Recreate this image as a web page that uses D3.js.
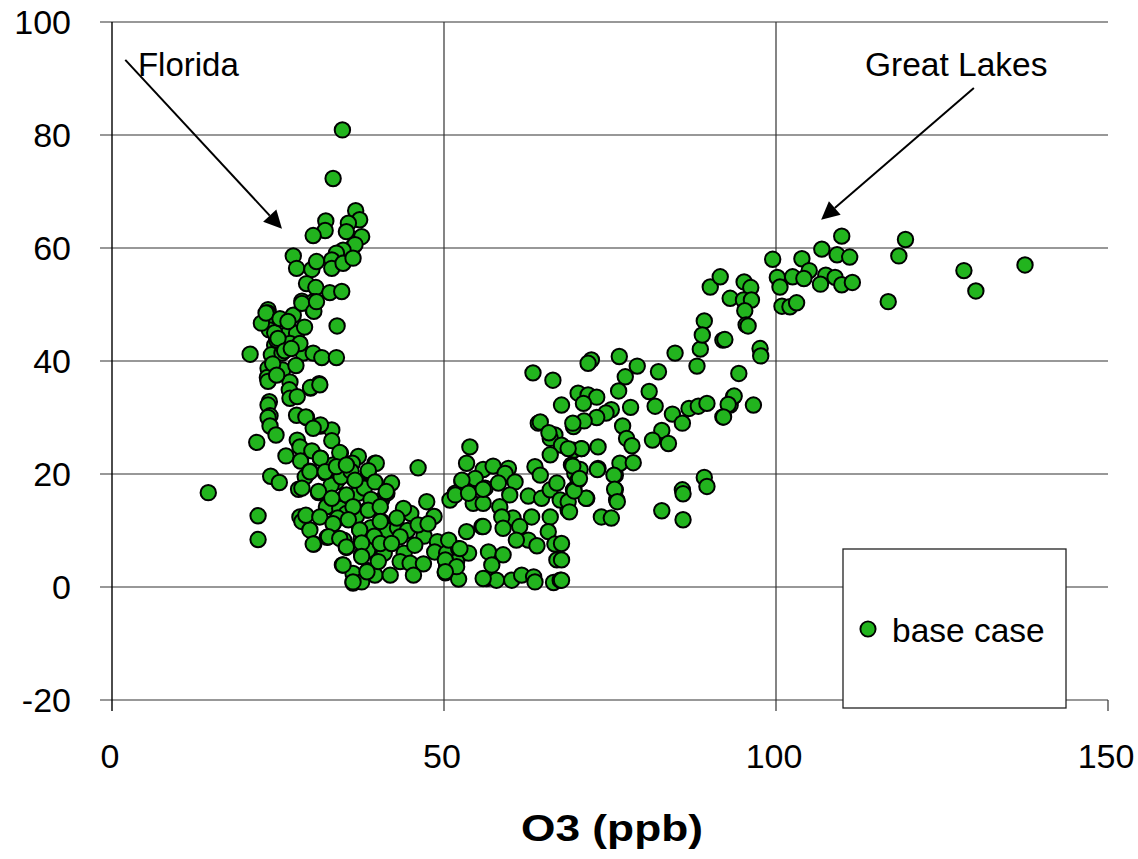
<!DOCTYPE html>
<html>
<head>
<meta charset="utf-8">
<script src="https://cdn.jsdelivr.net/npm/d3@7"></script>
<style>
  body { margin: 0; background: #fff; }
  text { font-family: "Liberation Sans", Arial, Helvetica, sans-serif; fill: #000; }
</style>
</head>
<body>
<svg id="chart" width="1138" height="859"></svg>
<script>
// ---- data ----
const xTickValues = [0, 50, 100, 150];
const yTickValues = [-20, 0, 20, 40, 60, 80, 100];
const xTitle = "O3 (ppb)";
const seriesName = "base case";

// [O3 (ppb), value]
const basePoints = [
  [34.7,80.9],[33.3,72.3],[36.7,66.6],[37.3,65],[32.2,64.8],[32.1,63.1],[30.3,62.2],[35.6,64.4],[35.3,62.9],[37.6,62],
  [36.3,60.2],[36.6,60.6],[34.8,59.6],[33.8,59.1],[27.3,58.6],[27.8,56.4],[30.1,56.2],[30.8,57.6],[33.1,57.9],[33.1,56.4],
  [34.8,57.3],[36.3,58.2],[29.3,53.7],[30.7,53],[32.8,52.1],[34.6,52.3],[28.6,50.6],[30.3,50.5],[23.5,49.1],[30.3,49],
  [23.5,48.5],[24,46.8],[23.7,45.5],[25.6,46.1],[27.3,48.1],[28.6,50.2],[30.4,48.8],[33.9,46.2],[30.8,50.5],[26.3,44.6],
  [27.8,44.9],[24.5,42.8],[26.8,43.1],[20.8,41.2],[24,41.1],[25.6,41.4],[28.8,41.4],[30.3,41.4],[31.6,40.6],[33.8,40.6],
  [23.5,38.7],[25.7,38.4],[27.7,39.2],[23.4,37.1],[23.5,36.4],[26.8,36.3],[31.2,36],[29.9,35.2],[26.7,34.9],[26.8,33.4],
  [27.9,33.7],[23.7,32.8],[23.5,32.2],[23.8,30.3],[23.5,30],[23.8,28.5],[24.7,26.9],[21.8,25.6],[27.8,30.4],[29.3,30],
  [31.4,28.5],[33.1,27.8],[33.1,25.9],[27.9,26],[28.3,24.8],[26.2,23.2],[28.4,22.3],[30.1,24.1],[31.4,22.8],[34.4,23.7],
  [37.1,23.1],[36.2,21.9],[33.3,21.6],[32.1,20.2],[29.8,20.5],[29.1,19.5],[23.9,19.6],[25.2,18.5],[14.5,16.7],[28.1,17.3],
  [31.1,16.7],[33.8,18.6],[36.9,18.6],[38.6,20.4],[39.6,21.9],[35.3,16],[36.3,14.2],[38.4,13.6],[40.1,13.9],[40.6,11.6],
  [32.3,14.2],[34.3,13.9],[28.3,12.4],[28.6,11.6],[29.8,10.1],[22,12.6],[22,8.4],[30.4,7.6],[33.3,11.3],[32.4,8.8],
  [35.3,7],[34.9,8.3],[37.3,10.1],[37.5,8.4],[37.6,5.7],[34.7,3.9],[36.3,2.4],[38.6,2.9],[40.1,4.8],[40.9,8],
  [36.3,0.7],[37.6,0.9],[39.6,2.1],[40.6,15.4],[41.4,16.6],[35.3,13],[37.1,16.6],[22.5,46.7],[23.2,48.5],[24.8,43.7],
  [28.3,43.1],
  [24.5,45],[25,44],[24.2,39.5],[24.8,37.5],[26,41.8],[27,42.2],[25.3,47.5],[26.5,47],[29,46],
  [33,18],[34.5,19.5],[36,20.5],[38,17.5],[39,15.5],[34,12.2],[36.8,12.5],[39,10.5],[41.5,10],[43,10.5],
  [38.5,6.5],[39.5,9],[41,6],[44,6],[44.5,10],[45,13],[47,9],[49,8],[48.5,12.5],
  [29.9,35.3],[31.3,35.8],[29.2,30.1],[31.4,28.7],[30.3,28.1],[34.3,23.8],[39.8,21.9],[38.6,20.6],[31.4,22.8],[29.8,20.4],
  [32.1,20.4],[33.8,21.3],[35.3,21.6],[36.6,18.9],[39.6,18.6],[42.1,18.4],[41.3,16.9],[46.1,21.1],[28.6,17.5],[31.1,16.9],
  [35.3,16.3],[33.1,15.7],[36.3,14.2],[38.6,13.6],[40.4,14.2],[43.9,13.9],[47.4,15.1],[29.2,12.7],[31.3,12.4],[33.3,11.2],
  [35.6,11.9],[37.3,10.1],[40.4,11.6],[42.9,12.2],[43.4,8.9],[46.1,11],[47.6,11.2],[45.6,7.4],[30.3,7.6],[32.6,8.9],
  [34.3,8.6],[35.3,7.1],[37.6,7.8],[40.4,7.7],[42.1,7.7],[34.8,3.9],[37.6,5.4],[40.1,4.5],[43.4,4.5],[44.9,4.2],
  [46.9,4.1],[48.6,6.2],[50.4,6],[52.2,6.8],[53.7,6],[36.3,0.9],[38.4,2.7],[41.9,2.1],[45.4,2.1],[50.2,2.5],
  [52.2,1.4],[50.4,3.7],[51.9,4.5],[53.9,24.8],[53.4,21.9],[55.9,20.8],[57.4,21.4],[52.7,18.6],[54.7,19.2],[51.7,16.6],
  [50.9,15.4],[54.4,14.8],[56.2,17.5],[55.9,14.8],[53.4,9.8],[55.7,10.7],[56.7,6.2],[56.4,1.5],[57.9,1.2],
  [59.7,21],[59.2,20.1],[52.7,18.9],[58.2,18.4],[60.7,18.6],[51.7,16.3],[53.7,16.6],[55.9,17.3],[59.9,16.3],[62.7,16.1],
  [58.4,14.2],[64.7,15.7],[66,17.2],[63.2,12.4],[60.4,12.2],[58.7,12.4],[61.4,10.7],[58.9,10.4],[55.9,10.7],[66,12.4],
  [68.7,13.6],[71.5,15.7],[65.7,9.8],[62.7,8.3],[60.9,8.3],[66.7,7.6],[64,7.3],[50.7,8.3],[52.4,6.8],[58.9,5.7],
  [57.2,3.9],[67,4.8],[50.2,4.8],[51.9,3.6],[50.2,2.7],[55.9,1.5],[60.2,1.2],[61.7,2.1],[63.5,1.8],[63.7,0.9],
  [66.5,0.8],[67.5,1.2],[64.2,29],[66.7,26.9],[66,26.3],[67.7,25.1],[69.5,28.4],[69.5,24.2],[70.7,24.5],[73.2,24.8],
  [66,23.4],[63.7,21.3],[64.5,19.8],[67,18.4],[69.2,21.6],[69.7,20.1],[70.5,20.8],[70.2,18.9],[69.5,17.2],[67.5,15.4],
  [68.7,15.1],[73.2,21],[75.8,19.8],[75.8,17.2],[76,15.4],[73.7,12.4],[75.2,12.2],[76.5,21.9],
  [72.2,40.2],[71.7,39.6],[76.4,40.8],[84.8,41.4],[88.6,42.1],[88.1,39.1],[92,43.7],[79.1,39.1],[82.3,38.1],[77.3,37.2],
  [76.3,34.7],[80.9,34.6],[81.8,32],[70.2,34.3],[71.7,34],[73,33.6],[71,32.5],[67.7,32.2],[78.1,31.8],[75.2,31.4],
  [74.4,30.8],[73,30],[71.1,29.4],[69.4,29],[84.4,30.6],[85.9,29],[86.9,31.6],[88.3,32],[89.6,32.5],[92,30.1],
  [93.1,32.2],[93.6,33.7],[76.9,28.5],[77.5,26.3],[78.3,25],[82.8,27.7],[81.4,26],[83.8,25.4],[78.5,22],[70.7,24.5],
  [68.7,24.5],[69.4,21.4],[73.1,20.8],[75.6,19.8],[75.7,17.3],[76.1,15.1],[71.4,15.7],[69.6,17],[70.4,19.2],[68.9,13.3],
  [85.9,17.2],[86,16.5],[89.2,19.4],[89.6,17.8],[82.8,13.5],[86,11.9],[67.7,1.2],[67.7,4.8],[67.7,7.7],
  [63.4,37.9],[66.4,36.6],[64.5,29.2],[65.8,27.3],[90.1,53.1],[89.2,47.1],[88.9,44.6],
  [109.9,62.1],[119.5,61.5],[106.9,59.8],[99.5,58],[103.9,58.1],[109.2,58.8],[111.1,58.4],[118.5,58.6],[105,56],[100.2,54.8],
  [102.5,54.9],[104.2,54.6],[107.5,55.2],[108.9,54.8],[100.6,53.1],[106.7,53.6],[109.9,53.5],[111.5,53.9],[116.9,50.5],[100.9,49.7],
  [102.1,49.6],[103.1,50.3],[91.6,54.9],[95.2,54],[96.2,53],[93.1,51.1],[95.1,50.8],[96.3,50.8],[95.3,48.9],[95.5,46.4],
  [95.8,46.2],[92.3,43.8],[97.6,42.2],[97.7,40.9],[94.4,37.8],[93.7,33.8],[92.8,32.3],[96.6,32.2],[92.1,30.1],
  [128.3,56],[137.5,57],[130.1,52.4]
];

// callout labels, each with an arrow drawn below
const calloutLabels = ["Florida", "Great Lakes"];

// ---- drawing ----
const svg = d3.select("#chart");
const x = d3.scaleLinear().domain([0, 150]).range([112, 1108]);
const y = d3.scaleLinear().domain([-20, 100]).range([700, 22]);

const lineColor = "#333";
const grid = svg.append("g");

// horizontal grid lines (extend a little left of the axis as ticks)
grid.selectAll("line.h").data(yTickValues).join("line")
  .attr("x1", x(0) - 12).attr("x2", x(150))
  .attr("y1", d => y(d)).attr("y2", d => y(d))
  .attr("stroke", lineColor).attr("stroke-width", 1.2);

// vertical grid lines at interior ticks, axis at 0, tick at 150
grid.selectAll("line.v").data(xTickValues).join("line")
  .attr("x1", d => x(d)).attr("x2", d => x(d))
  .attr("y1", d => d === 150 ? y(-20) : y(100))
  .attr("y2", y(-20) + 11)
  .attr("stroke", d => d === 0 ? "#000" : lineColor)
  .attr("stroke-width", d => d === 0 ? 1.4 : 1.2);

// tick labels
svg.append("g").selectAll("text").data(xTickValues).join("text")
  .attr("x", d => x(d) - 2).attr("y", 768)
  .attr("text-anchor", "middle").attr("font-size", 34)
  .text(d => d);

svg.append("g").selectAll("text").data(yTickValues).join("text")
  .attr("x", 71).attr("y", d => y(d) + 12)
  .attr("text-anchor", "end").attr("font-size", 34)
  .text(d => d);

// axis title
svg.append("text")
  .attr("x", (x(0) + x(150)) / 2 + 2).attr("y", 841)
  .attr("text-anchor", "middle").attr("font-size", 37).attr("font-weight", "bold")
  .attr("textLength", 182).attr("lengthAdjust", "spacingAndGlyphs")
  .text(xTitle);

// points
const fillGreen = "#22b41e";
svg.append("g").selectAll("circle").data(basePoints).join("circle")
  .attr("cx", d => x(d[0])).attr("cy", d => y(d[1]))
  .attr("r", 7.7)
  .attr("fill", fillGreen).attr("stroke", "#000").attr("stroke-width", 2);

// callouts
function arrow(g, from, to) {
  const x1 = x(from[0]), y1 = y(from[1]), x2 = x(to[0]), y2 = y(to[1]);
  const ang = Math.atan2(y2 - y1, x2 - x1);
  const len = 18, hw = 9;
  const bx = x2 - len * Math.cos(ang), by = y2 - len * Math.sin(ang);
  g.append("line").attr("x1", x1).attr("y1", y1).attr("x2", bx).attr("y2", by)
    .attr("stroke", "#000").attr("stroke-width", 2);
  g.append("path")
    .attr("d", `M${x2},${y2}L${bx + hw * Math.sin(ang)},${by - hw * Math.cos(ang)}L${bx - hw * Math.sin(ang)},${by + hw * Math.cos(ang)}Z`)
    .attr("fill", "#000");
}
const callouts = svg.append("g");
callouts.append("text").attr("x", x(3.9)).attr("y", y(90.4))
  .attr("font-size", 33).text(calloutLabels[0]);
arrow(callouts, [2.0, 93.3], [25.6, 63.4]);
callouts.append("text").attr("x", x(113.4)).attr("y", y(90.4))
  .attr("font-size", 33.5).text(calloutLabels[1]);
arrow(callouts, [129.8, 88.3], [106.8, 65.0]);

// legend
const legend = svg.append("g");
legend.append("rect").attr("x", 843).attr("y", 549).attr("width", 223).attr("height", 159)
  .attr("fill", "#fff").attr("stroke", "#222").attr("stroke-width", 1.3);
legend.append("circle").attr("cx", 868).attr("cy", 629).attr("r", 7.6)
  .attr("fill", fillGreen).attr("stroke", "#000").attr("stroke-width", 1.9);
legend.append("text").attr("x", 892).attr("y", 642).attr("font-size", 33.5).text(seriesName);
</script>
</body>
</html>
